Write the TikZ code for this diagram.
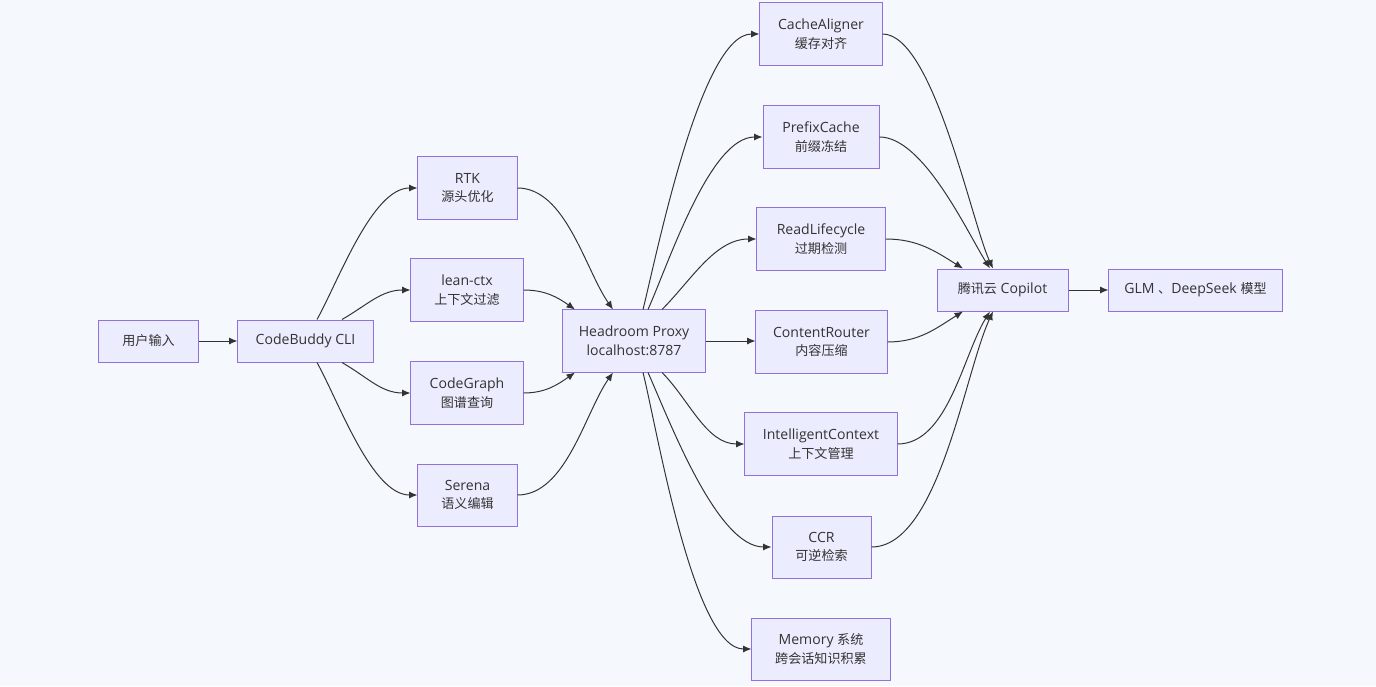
\documentclass[tikz,border=0pt]{standalone}
\usepackage{fontspec}
\setmainfont{Open Sans}
\newfontfamily\cjk[Scale=0.93]{Noto Sans CJK SC}
\usetikzlibrary{arrows.meta,calc}
\definecolor{bgcol}{HTML}{F5F9FD}
\definecolor{boxfill}{HTML}{ECECFF}
\definecolor{boxline}{HTML}{9370DB}
\definecolor{ink}{HTML}{333333}
\begin{document}
\begin{tikzpicture}[x=0.025cm,y=0.025cm,
    box/.style={draw=boxline,fill=boxfill,line width=0.7pt,text=ink,align=center,
      font=\fontsize{10}{13.2}\selectfont,inner sep=0pt,minimum height=1.05cm},
    tall/.style={box,minimum height=1.55cm},
    link/.style={draw=ink,line width=0.7pt,-{Latex[length=6pt,width=5pt]}}]
  \fill[bgcol] (0,0) rectangle (1376,686);
  \useasboundingbox (0,0) rectangle (1376,686);

  \node[box,minimum width=2.475cm] (user) at (148.5,345) {\cjk 用户输入};
  \node[box,minimum width=3.375cm] (cli) at (305.5,345) {CodeBuddy CLI};

  \node[tall,minimum width=2.475cm] (rtk) at (467.5,498) {RTK\\{\cjk 源头优化}};
  \node[tall,minimum width=2.8cm] (lean) at (467,396) {lean-ctx\\{\cjk 上下文过滤}};
  \node[tall,minimum width=2.8cm] (graph) at (467,293) {CodeGraph\\{\cjk 图谱查询}};
  \node[tall,minimum width=2.475cm] (serena) at (467.5,191) {Serena\\{\cjk 语义编辑}};

  \node[tall,minimum width=3.55cm] (proxy) at (634,345) {Headroom Proxy\\localhost:8787};

  \node[tall,minimum width=3.05cm] (aligner) at (821,652) {CacheAligner\\{\cjk 缓存对齐}};
  \node[tall,minimum width=2.9cm] (prefix) at (821,549) {PrefixCache\\{\cjk 前缀冻结}};
  \node[tall,minimum width=3.2cm] (lifecycle) at (821,447) {ReadLifecycle\\{\cjk 过期检测}};
  \node[tall,minimum width=3.275cm] (router) at (821.5,344) {ContentRouter\\{\cjk 内容压缩}};
  \node[tall,minimum width=3.8cm] (intctx) at (821,242) {IntelligentContext\\{\cjk 上下文管理}};
  \node[tall,minimum width=2.475cm] (ccr) at (821.5,139) {CCR\\{\cjk 可逆检索}};
  \node[tall,minimum width=3.45cm] (memory) at (821,37) {Memory {\cjk 系统}\\{\cjk 跨会话知识积累}};

  \node[box,minimum width=3.275cm] (copilot) at (1002.5,396) {{\cjk 腾讯云} Copilot};
  \node[box,minimum width=4.325cm] (model) at (1195.5,396) {GLM {\cjk 、}DeepSeek {\cjk 模型}};

  \draw[link] (user.east) -- (cli.west);

  \draw[link] ($(cli.north)+(11.5,0)$) to[out=61,in=180,looseness=0.7] (rtk.west);
  \draw[link] ($(cli.north)+(36.5,0)$) to[out=30,in=180] (lean.west);
  \draw[link] ($(cli.south)+(36.5,0)$) to[out=-30,in=180] (graph.west);
  \draw[link] ($(cli.south)+(11.5,0)$) to[out=-61,in=180,looseness=0.7] (serena.west);

  \draw[link] (rtk.east) to[out=0,in=125,looseness=0.8] ($(proxy.north)+(-21,0)$);
  \draw[link] (lean.east) to[out=0,in=145] ($(proxy.north)+(-59,0)$);
  \draw[link] (graph.east) to[out=0,in=-145] ($(proxy.south)+(-59,0)$);
  \draw[link] (serena.east) to[out=0,in=-125,looseness=0.8] ($(proxy.south)+(-21,0)$);

  \draw[link] ($(proxy.north)+(9,0)$) to[out=76,in=180,looseness=0.5] (aligner.west);
  \draw[link] ($(proxy.north)+(14,0)$) to[out=66,in=180,looseness=0.65] (prefix.west);
  \draw[link] ($(proxy.north)+(28,0)$) to[out=45,in=180,looseness=0.9] (lifecycle.west);
  \draw[link] (proxy.east) -- (proxy.east -| router.west);
  \draw[link] ($(proxy.south)+(28,0)$) to[out=-45,in=180,looseness=0.9] (intctx.west);
  \draw[link] ($(proxy.south)+(14,0)$) to[out=-66,in=180,looseness=0.65] (ccr.west);
  \draw[link] ($(proxy.south)+(9,0)$) to[out=-76,in=180,looseness=0.5] (memory.west);

  \draw[link] (aligner.east) to[out=0,in=115,looseness=0.5] ($(copilot.north)+(-9.5,0)$);
  \draw[link] (prefix.east) to[out=0,in=122,looseness=0.65] ($(copilot.north)+(-12.5,0)$);
  \draw[link] (lifecycle.east) to[out=0,in=148] ($(copilot.north)+(-39.5,0)$);
  \draw[link] (router.east) to[out=0,in=-148] ($(copilot.south)+(-39.5,0)$);
  \draw[link] (intctx.east) to[out=0,in=-122,looseness=0.8] ($(copilot.south)+(-12.5,0)$);
  \draw[link] (ccr.east) to[out=0,in=-115,looseness=0.65] ($(copilot.south)+(-9.5,0)$);

  \draw[link] (copilot.east) -- (model.west);
\end{tikzpicture}
\end{document}
